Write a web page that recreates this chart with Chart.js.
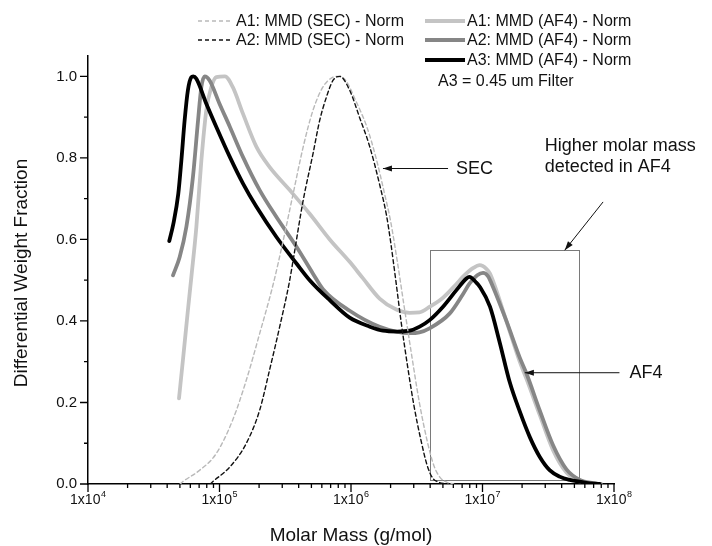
<!DOCTYPE html>
<html>
<head>
<meta charset="utf-8">
<script src="https://cdn.jsdelivr.net/npm/chart.js@4.4.1/dist/chart.umd.min.js"></script>
<style>
  html, body { margin: 0; padding: 0; background: #fff; }
  canvas { display: block; }
</style>
</head>
<body>
<canvas id="mmd" width="712" height="546"></canvas>
<script>
const FONT = '"Liberation Sans", Arial, Helvetica, sans-serif';

// SEC molar mass distributions (normalised), g/mol vs. differential weight fraction
const massSecA1 = [5.01e4, 5.27e4, 7.08e4, 9.46e4, 1.26e5, 1.60e5, 2.02e5, 2.56e5, 3.04e5, 3.63e5,
  4.33e5, 5.14e5, 6.12e5, 7.29e5, 7.94e5, 9.12e5, 1.07e6, 1.32e6, 1.55e6, 1.80e6,
  2.00e6, 2.24e6, 2.51e6, 2.88e6, 3.31e6, 3.80e6, 4.27e6, 4.79e6, 5.37e6, 6.03e6];
const wfSecA1 = [0.0, 0.006, 0.034, 0.075, 0.157, 0.255, 0.369, 0.490, 0.595, 0.712,
  0.827, 0.917, 0.974, 0.998, 1.0, 0.99, 0.945, 0.876, 0.80, 0.712,
  0.645, 0.55, 0.445, 0.32, 0.20, 0.105, 0.045, 0.015, 0.004, 0.0];

const massSecA2 = [8.51e4, 8.91e4, 1.20e5, 1.60e5, 2.02e5, 2.40e5, 2.87e5, 3.42e5, 3.63e5, 4.33e5,
  5.14e5, 5.78e5, 6.50e5, 7.29e5, 8.20e5, 9.77e5, 1.16e6, 1.39e6, 1.65e6, 1.86e6,
  2.00e6, 2.19e6, 2.40e6, 2.69e6, 3.02e6, 3.39e6, 3.80e6, 4.17e6, 4.68e6, 5.25e6];
const wfSecA2 = [0.0, 0.006, 0.042, 0.100, 0.181, 0.279, 0.386, 0.500, 0.549, 0.696,
  0.810, 0.892, 0.949, 0.990, 1.0, 0.966, 0.900, 0.827, 0.735, 0.660,
  0.595, 0.500, 0.400, 0.290, 0.190, 0.110, 0.045, 0.015, 0.004, 0.0];

// AF4 molar mass distributions (normalised)
const massAf4A1 = [4.92e4, 5.27e4, 5.75e4, 6.11e4, 6.67e4, 7.28e4, 7.94e4, 8.67e4, 9.46e4, 1.10e5,
  1.26e5, 1.51e5, 1.91e5, 2.40e5, 3.42e5, 4.85e5, 6.89e5, 9.77e5, 1.23e6, 1.65e6,
  2.21e6, 2.79e6, 3.31e6, 3.98e6, 5.01e6, 6.31e6, 7.08e6, 8.51e6, 9.53e6, 1.07e7,
  1.14e7, 1.51e7, 1.92e7, 2.16e7, 2.72e7, 3.44e7, 4.35e7, 5.50e7, 6.92e7];
const wfAf4A1 = [0.210, 0.304, 0.426, 0.508, 0.631, 0.794, 0.917, 0.974, 0.998, 1.0,
  0.974, 0.908, 0.827, 0.778, 0.721, 0.663, 0.600, 0.545, 0.505, 0.455,
  0.428, 0.420, 0.421, 0.435, 0.457, 0.490, 0.508, 0.530, 0.537, 0.528,
  0.516, 0.402, 0.300, 0.258, 0.170, 0.083, 0.028, 0.006, 0.0];

const massAf4A2 = [4.43e4, 4.98e4, 5.60e4, 6.28e4, 6.87e4, 7.28e4, 7.71e4, 8.41e4, 1.00e5, 1.20e5,
  1.51e5, 2.02e5, 2.71e5, 3.85e5, 5.14e5, 6.12e5, 9.77e5, 1.65e6, 2.79e6, 3.31e6,
  3.96e6, 5.62e6, 7.08e6, 7.98e6, 9.12e6, 1.01e7, 1.10e7, 1.20e7, 1.52e7, 1.92e7,
  2.16e7, 2.72e7, 3.44e7, 4.35e7, 5.50e7, 6.92e7, 7.94e7];
const wfAf4A2 = [0.512, 0.557, 0.631, 0.753, 0.892, 0.974, 1.0, 0.990, 0.933, 0.876,
  0.802, 0.721, 0.655, 0.582, 0.516, 0.478, 0.425, 0.386, 0.370, 0.372,
  0.382, 0.418, 0.465, 0.492, 0.512, 0.518, 0.510, 0.484, 0.400, 0.310,
  0.271, 0.181, 0.095, 0.036, 0.010, 0.002, 0.0];

const massAf4A3 = [4.15e4, 4.46e4, 4.86e4, 5.13e4, 5.43e4, 5.75e4, 6.11e4, 6.31e4, 6.67e4, 7.94e4,
  9.46e4, 1.20e5, 1.51e5, 1.91e5, 2.71e5, 3.85e5, 4.85e5, 6.89e5, 9.77e5, 1.39e6,
  1.75e6, 2.24e6, 2.79e6, 3.33e6, 3.96e6, 5.01e6, 6.31e6, 7.55e6, 7.94e6, 8.91e6,
  9.53e6, 1.14e7, 1.35e7, 1.61e7, 1.92e7, 2.29e7, 2.72e7, 3.24e7, 3.86e7, 4.60e7,
  6.17e7, 7.76e7];
const wfAf4A3 = [0.596, 0.639, 0.712, 0.794, 0.892, 0.966, 0.998, 1.0, 0.994, 0.933,
  0.876, 0.802, 0.737, 0.680, 0.606, 0.541, 0.500, 0.451, 0.408, 0.386,
  0.376, 0.374, 0.376, 0.386, 0.402, 0.435, 0.475, 0.504, 0.508, 0.495,
  0.484, 0.435, 0.348, 0.250, 0.178, 0.115, 0.067, 0.034, 0.018, 0.010,
  0.003, 0.0];

// Axis ticks
const xTickExponents = [4, 5, 6, 7, 8];
const yTickValues = [0, 0.2, 0.4, 0.6, 0.8, 1.0];
const yTickLabels = ['0.0', '0.2', '0.4', '0.6', '0.8', '1.0'];
const yMinorValues = [0.1, 0.3, 0.5, 0.7, 0.9];

// Series names
const nameSecA1 = 'A1: MMD (SEC) - Norm';
const nameSecA2 = 'A2: MMD (SEC) - Norm';
const nameAf4A1 = 'A1: MMD (AF4) - Norm';
const nameAf4A2 = 'A2: MMD (AF4) - Norm';
const nameAf4A3 = 'A3: MMD (AF4) - Norm';

// Annotation anchors (data coordinates)
const boxMass = [3.96e6, 5.38e7];
const boxFrac = [0.01, 0.5735];
const secArrow = { from: [5.47e6, 0.774], to: [1.75e6, 0.774] };
const af4Arrow = { from: [1.1e8, 0.273], to: [2.10e7, 0.273] };
const boxArrow = { from: [8.26e7, 0.692], to: [4.22e7, 0.5735] };
const boxNoteAnchor = [2.97e7, 0.816];

const pts = (m, w) => m.map((v, i) => ({ x: v, y: w[i] }));

function lineSet(label, m, w, color, width, dash, order) {
  return {
    label, data: pts(m, w), borderColor: color, borderWidth: width,
    borderDash: dash, order, pointRadius: 0, fill: false,
    cubicInterpolationMode: 'monotone', borderCapStyle: 'round', borderJoinStyle: 'round'
  };
}

const datasets = [
  lineSet(nameSecA1, massSecA1, wfSecA1, '#b9b9b9', 1.4, [4, 3], 1),
  lineSet(nameSecA2, massSecA2, wfSecA2, '#111111', 1.4, [4, 3], 0),
  lineSet(nameAf4A1, massAf4A1, wfAf4A1, '#c4c4c4', 3.8, [], 4),
  lineSet(nameAf4A2, massAf4A2, wfAf4A2, '#868686', 3.8, [], 3),
  lineSet(nameAf4A3, massAf4A3, wfAf4A3, '#000000', 3.8, [], 2)
];

function arrow(ctx, x1, y1, x2, y2) {
  ctx.beginPath();
  ctx.moveTo(x1, y1);
  ctx.lineTo(x2, y2);
  ctx.stroke();
  const a = Math.atan2(y2 - y1, x2 - x1);
  const L = 9, W = 3;
  ctx.beginPath();
  ctx.moveTo(x2, y2);
  ctx.lineTo(x2 - L * Math.cos(a) + W * Math.sin(a), y2 - L * Math.sin(a) - W * Math.cos(a));
  ctx.lineTo(x2 - L * Math.cos(a) - W * Math.sin(a), y2 - L * Math.sin(a) + W * Math.cos(a));
  ctx.closePath();
  ctx.fill();
}

const decor = {
  id: 'decor',
  beforeDatasetsDraw(chart) {
    const { ctx, scales: { x, y } } = chart;
    ctx.save();
    ctx.strokeStyle = '#7a7a7a';
    ctx.lineWidth = 1;
    const l = x.getPixelForValue(boxMass[0]), r = x.getPixelForValue(boxMass[1]);
    const t = y.getPixelForValue(boxFrac[1]), b = y.getPixelForValue(boxFrac[0]);
    ctx.strokeRect(Math.round(l) + 0.5, Math.round(t) + 0.5, Math.round(r - l), Math.round(b - t));
    ctx.restore();
  },
  afterDraw(chart) {
    const { ctx, scales: { x, y }, chartArea: a } = chart;
    const dsByLabel = {};
    chart.data.datasets.forEach(d => { dsByLabel[d.label] = d; });
    ctx.save();

    // tick marks
    ctx.strokeStyle = '#000';
    ctx.lineWidth = 1.3;
    ctx.beginPath();
    xTickExponents.forEach((e, i) => {
      const px = x.getPixelForValue(Math.pow(10, e));
      ctx.moveTo(px, a.bottom); ctx.lineTo(px, a.bottom + 8);
      if (i < xTickExponents.length - 1) {
        for (let m = 2; m <= 9; m++) {
          const mx = x.getPixelForValue(m * Math.pow(10, e));
          ctx.moveTo(mx, a.bottom); ctx.lineTo(mx, a.bottom + 4);
        }
      }
    });
    yTickValues.forEach(v => {
      const py = y.getPixelForValue(v);
      ctx.moveTo(a.left, py); ctx.lineTo(a.left - 8, py);
    });
    yMinorValues.forEach(v => {
      const py = y.getPixelForValue(v);
      ctx.moveTo(a.left, py); ctx.lineTo(a.left - 4, py);
    });
    ctx.stroke();

    ctx.fillStyle = '#111';
    // x tick labels with superscript exponent
    xTickExponents.forEach(e => {
      const px = x.getPixelForValue(Math.pow(10, e));
      ctx.font = '14px ' + FONT;
      const base = '1x10';
      const wb = ctx.measureText(base).width;
      ctx.font = '9px ' + FONT;
      const sup = String(e);
      const ws = ctx.measureText(sup).width;
      const left = px - (wb + ws + 0.5) / 2;
      ctx.textAlign = 'left';
      ctx.textBaseline = 'alphabetic';
      ctx.font = '14px ' + FONT;
      ctx.fillText(base, left, a.bottom + 20);
      ctx.font = '9px ' + FONT;
      ctx.fillText(sup, left + wb + 0.5, a.bottom + 13);
    });
    // y tick labels
    ctx.font = '15px ' + FONT;
    ctx.textAlign = 'right';
    ctx.textBaseline = 'middle';
    yTickValues.forEach((v, i) => {
      ctx.fillText(yTickLabels[i], a.left - 11, y.getPixelForValue(v));
    });

    // axis titles
    ctx.font = '19px ' + FONT;
    ctx.textAlign = 'center';
    ctx.textBaseline = 'alphabetic';
    ctx.fillText('Molar Mass (g/mol)', (a.left + a.right) / 2, a.bottom + 57);
    ctx.save();
    ctx.translate(22, 273);
    ctx.rotate(-Math.PI / 2);
    ctx.textBaseline = 'middle';
    ctx.fillText('Differential Weight Fraction', 0, 0);
    ctx.restore();

    // legend
    const legendRows = [
      { name: nameSecA1, x0: 198, x1: 232, tx: 236, y: 21 },
      { name: nameSecA2, x0: 198, x1: 232, tx: 236, y: 40 },
      { name: nameAf4A1, x0: 425, x1: 465, tx: 467, y: 21 },
      { name: nameAf4A2, x0: 425, x1: 465, tx: 467, y: 40 },
      { name: nameAf4A3, x0: 425, x1: 465, tx: 467, y: 60 }
    ];
    legendRows.forEach(r => {
      const d = dsByLabel[r.name];
      ctx.save();
      ctx.strokeStyle = d.borderColor;
      ctx.lineWidth = d.borderWidth;
      ctx.setLineDash(d.borderDash || []);
      ctx.lineCap = 'butt';
      ctx.beginPath();
      ctx.moveTo(r.x0, r.y); ctx.lineTo(r.x1, r.y);
      ctx.stroke();
      ctx.restore();
      ctx.font = '16px ' + FONT;
      ctx.textAlign = 'left';
      ctx.textBaseline = 'middle';
      ctx.fillStyle = '#111';
      ctx.fillText(r.name, r.tx, r.y + 1);
    });
    ctx.font = '16px ' + FONT;
    ctx.textBaseline = 'alphabetic';
    ctx.fillText('A3 = 0.45 um Filter', 438, 86);

    // annotations
    ctx.strokeStyle = '#111';
    ctx.fillStyle = '#111';
    ctx.lineWidth = 1;
    const P = p => [x.getPixelForValue(p[0]), y.getPixelForValue(p[1])];
    let f = P(secArrow.from), t = P(secArrow.to);
    arrow(ctx, f[0], f[1], t[0], t[1]);
    ctx.font = '18px ' + FONT;
    ctx.textAlign = 'left';
    ctx.fillText('SEC', f[0] + 8, f[1] + 5);
    f = P(af4Arrow.from); t = P(af4Arrow.to);
    arrow(ctx, f[0], f[1], t[0], t[1]);
    ctx.fillText('AF4', f[0] + 10, f[1] + 5);
    f = P(boxArrow.from); t = P(boxArrow.to);
    arrow(ctx, f[0], f[1], t[0], t[1]);
    const n = P(boxNoteAnchor);
    ctx.fillText('Higher molar mass', n[0], n[1]);
    ctx.fillText('detected in AF4', n[0], n[1] + 21);

    ctx.restore();
  }
};

new Chart(document.getElementById('mmd'), {
  type: 'line',
  data: { datasets },
  options: {
    responsive: false,
    animation: false,
    devicePixelRatio: 1,
    layout: { padding: { left: 88, right: 98, top: 56, bottom: 62 } },
    scales: {
      x: {
        type: 'logarithmic', min: 1e4, max: 1e8,
        grid: { display: false, drawTicks: false },
        ticks: { display: false },
        border: { display: true, color: '#000', width: 1.5 }
      },
      y: {
        type: 'linear', min: 0, max: 1.05,
        grid: { display: false, drawTicks: false },
        ticks: { display: false },
        border: { display: true, color: '#000', width: 1.5 }
      }
    },
    plugins: { legend: { display: false }, tooltip: { enabled: false } }
  },
  plugins: [decor]
});
</script>
</body>
</html>
